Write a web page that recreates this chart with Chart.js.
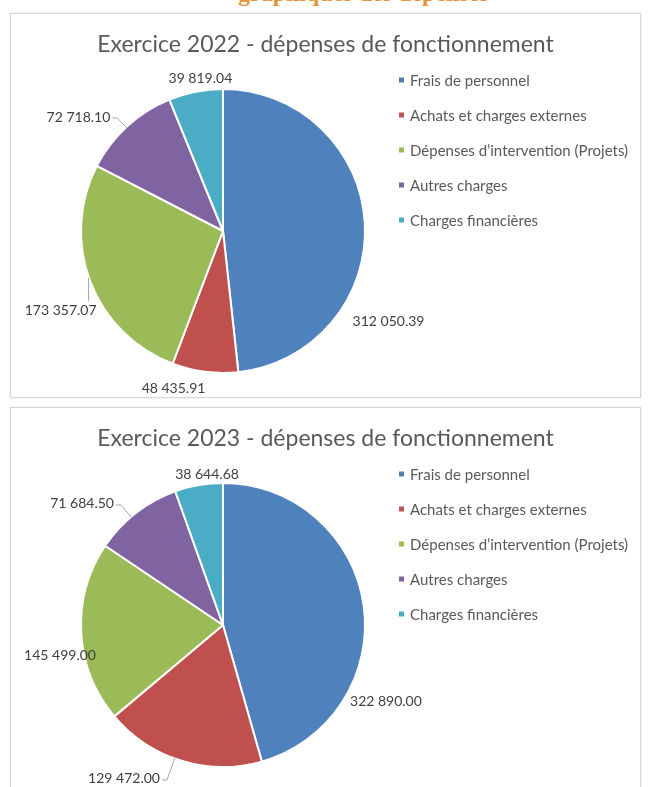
<!DOCTYPE html>
<html>
<head>
<meta charset="utf-8">
<script src="https://cdn.jsdelivr.net/npm/chart.js@4"></script>
<style>
  body { margin: 0; background: #fff; width: 649px; height: 787px; overflow: hidden; position: relative; }
  .head { position: absolute; top: -20px; left: 238px; text-align: left;
          font: bold 24px "Liberation Serif", serif; color: #e8923a; white-space: nowrap; }
  .box { position: absolute; left: 10px; width: 629px; height: 383px;
         border: 1px solid #d6d6d6; box-shadow: 0 0 2px rgba(0,0,0,0.12); background: #fff; }
  .box canvas { position: absolute; left: 0; top: 0; }
</style>
</head>
<body>
<div class="head">graphiques des dépenses</div>
<div class="box" style="top:13px"><canvas id="chart2022" width="629" height="383"></canvas></div>
<div class="box" style="top:407px"><canvas id="chart2023" width="629" height="383"></canvas></div>

<script>
// categories
const categories = [
    'Frais de personnel',
    'Achats et charges externes',
    'Dépenses d’intervention (Projets)',
    'Autres charges',
    'Charges financières'
];

// series values
const values2022 = [312050.39, 48435.91, 173357.07, 72718.10, 39819.04];
const values2023 = [322890.00, 129472.00, 145499.00, 71684.50, 38644.68];

const colors = ['#4f81bd', '#c0504d', '#9bbb59', '#8064a2', '#4bacc6'];

// where Excel put each data label: angle (deg, clockwise from top), distance (x radius), leader line
const labelPos2022 = [
    { angle: 118.5, dist: 1.336, leader: null },
    { angle: 197.5, dist: 1.167, leader: null },
    { angle: 244.1, dist: 1.28, leader: 'top' },
    { angle: 308.5, dist: 1.31, leader: 'right' },
    { angle: 351.6, dist: 1.097, leader: null }
];
const labelPos2023 = [
    { angle: 115, dist: 1.275, leader: null },
    { angle: 212.9, dist: 1.292, leader: 'right' },
    { angle: 259.9, dist: 1.174, leader: null },
    { angle: 310.9, dist: 1.322, leader: 'right' },
    { angle: 354, dist: 1.084, leader: null }
];

const FONT = 'Lato, "Open Sans", sans-serif';

function fmt(v) {
    const parts = v.toFixed(2).split('.');
    return parts[0].replace(/\B(?=(\d{3})+(?!\d))/g, ' ') + '.' + parts[1];
}

// title, legend and data labels drawn like the Excel chart
const excelLook = {
    id: 'excelLook',
    afterDraw(chart, args, opts) {
        const ctx = chart.ctx;
        ctx.save();

        // title
        ctx.fillStyle = '#595959';
        ctx.font = '23px ' + FONT;
        ctx.textAlign = 'center';
        ctx.textBaseline = 'middle';
        ctx.fillText(opts.title, chart.width / 2, 31);

        // legend
        ctx.font = '15px ' + FONT;
        ctx.textAlign = 'left';
        chart.data.labels.forEach((lab, i) => {
            const y = 66 + i * 35;
            ctx.fillStyle = chart.data.datasets[0].backgroundColor[i];
            ctx.fillRect(388, y - 2.5, 5, 5);
            ctx.fillStyle = '#595959';
            ctx.fillText(lab, 399, y + 1);
        });

        // data labels
        const meta = chart.getDatasetMeta(0);
        ctx.font = '14px ' + FONT;
        ctx.textAlign = 'center';
        meta.data.forEach((arc, i) => {
            const p = opts.labels[i];
            const R = arc.outerRadius - 1;
            const a = p.angle * Math.PI / 180;
            const lx = arc.x + Math.sin(a) * R * p.dist;
            const ly = arc.y - Math.cos(a) * R * p.dist;
            const txt = fmt(chart.data.datasets[0].data[i]);
            const w = ctx.measureText(txt).width;
            ctx.fillStyle = '#404040';
            ctx.fillText(txt, lx, ly + 1);

            if (p.leader) {
                ctx.strokeStyle = '#a6a6a6';
                ctx.lineWidth = 1;
                ctx.beginPath();
                if (p.leader === 'right') {
                    const sx = lx + w / 2 + 2, sy = ly + 2;
                    const dx = sx + 5 - arc.x, dy = sy - arc.y;
                    const d = Math.hypot(dx, dy);
                    ctx.moveTo(sx, sy);
                    ctx.lineTo(sx + 5, sy);
                    ctx.lineTo(arc.x + dx / d * R, arc.y + dy / d * R);
                } else {
                    const sx = lx + w / 2 - 8, sy = ly - 9;
                    const dx = sx - arc.x;
                    ctx.moveTo(sx, sy);
                    ctx.lineTo(sx, arc.y + Math.sqrt(Math.max(R * R - dx * dx, 0)) + 4);
                }
                ctx.stroke();
            }
        });
        ctx.restore();
    }
};

function makePie(id, title, values, labelPos) {
    return new Chart(document.getElementById(id), {
        type: 'pie',
        data: {
            labels: categories,
            datasets: [{
                data: values,
                backgroundColor: colors,
                borderColor: '#ffffff',
                borderWidth: 2,
                hoverOffset: 0,
                radius: 142
            }]
        },
        options: {
            responsive: false,
            animation: false,
            layout: { padding: { left: 70, right: 275, top: 75, bottom: 24 } },
            plugins: {
                legend: { display: false },
                tooltip: { enabled: false },
                excelLook: { title: title, labels: labelPos }
            }
        },
        plugins: [excelLook]
    });
}

makePie('chart2022', 'Exercice 2022 - dépenses de fonctionnement', values2022, labelPos2022);
makePie('chart2023', 'Exercice 2023 - dépenses de fonctionnement', values2023, labelPos2023);
</script>
</body>
</html>
